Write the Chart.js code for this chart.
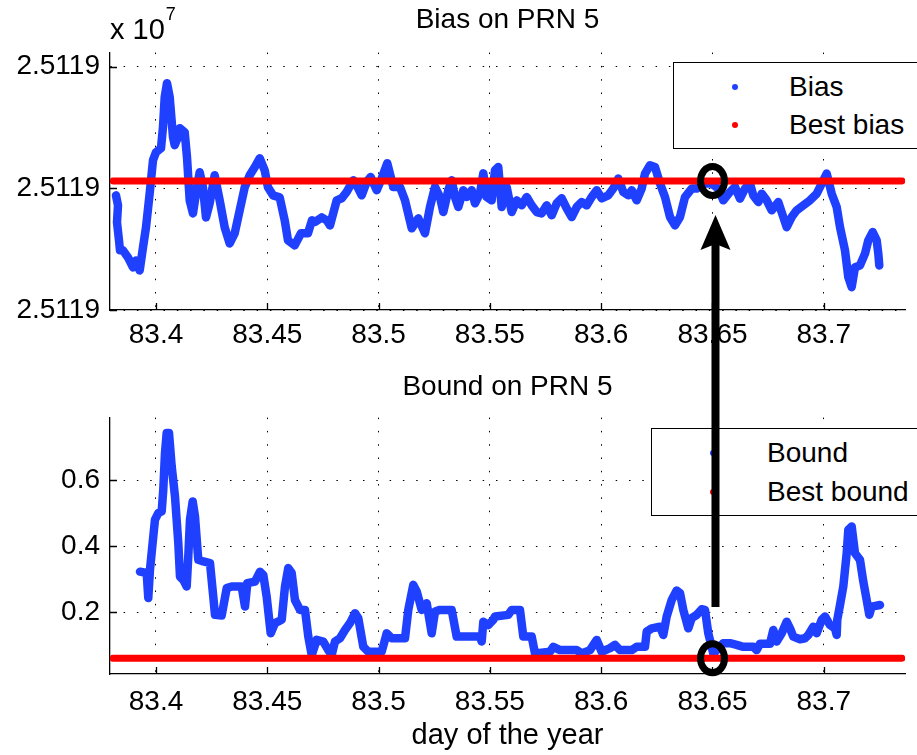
<!DOCTYPE html>
<html lang="en">
<head>
    <meta charset="UTF-8">
    <title>Bias and bound on PRN 5</title>
    <style>
        body { margin: 0; background: #fff; font-family: "Liberation Sans", Arial, sans-serif; }
        #wrap { position: relative; width: 917px; height: 755px; overflow: hidden; }
        canvas { position: absolute; left: 0; }
        #biasChart { top: 0; }
        #boundChart { top: 370px; }
        #overlay { top: 0; z-index: 3; pointer-events: none; }
        .legend { position: absolute; background: #fff; border: 1.5px solid #000; z-index: 2; color: #000; font-size: 28px; }
        .legend .dot { position: absolute; width: 6px; height: 6px; border-radius: 50%; margin: -3px 0 0 -3px; }
        .legend .lbl { position: absolute; line-height: 32px; margin-top: -16px; white-space: nowrap; }
    </style>
</head>
<body>
<div id="wrap">
    <canvas id="biasChart" width="917" height="370"></canvas>
    <canvas id="boundChart" width="917" height="385"></canvas>

    <div class="legend" style="left:673px; top:62px; width:260px; height:85px;">
        <span class="dot" style="left:61px; top:24px; background:rgb(32,64,255);"></span>
        <span class="lbl" style="left:115px; top:24px;">Bias</span>
        <span class="dot" style="left:61px; top:62px; background:#ff0000;"></span>
        <span class="lbl" style="left:115px; top:62px;">Best bias</span>
    </div>
    <div class="legend" style="left:651px; top:428px; width:280px; height:86px;">
        <span class="dot" style="left:61px; top:24px; background:rgb(32,64,255);"></span>
        <span class="lbl" style="left:115px; top:24px;">Bound</span>
        <span class="dot" style="left:61px; top:63px; background:#ff0000;"></span>
        <span class="lbl" style="left:115px; top:63px;">Best bound</span>
    </div>

    <canvas id="overlay" width="917" height="755"></canvas>
</div>

<script src="https://cdn.jsdelivr.net/npm/chart.js"></script>
<script>
    // x axis (day of the year)
    const dayMin = 83.37934;
    const dayMax = 83.73648;
    const dayTicks = [83.4, 83.45, 83.5, 83.55, 83.6, 83.65, 83.7];

    // bias in metres, stored as offset from biasBase
    const biasBase = 25119000;
    const biasTicks = [25118999, 25119000, 25119001];
    const biasDay = [83.38203, 83.38293, 83.38248, 83.38338, 83.38383, 83.38518, 83.38742, 83.38967, 83.39102, 83.39268,
        83.39416, 83.39551, 83.39717, 83.39865, 83.40000, 83.40225, 83.40314, 83.40391, 83.40494, 83.40615,
        83.40764, 83.40840, 83.40988, 83.41065, 83.41289, 83.41393, 83.41514, 83.41662, 83.41797, 83.41963,
        83.42111, 83.42246, 83.42412, 83.42637, 83.42862, 83.43086, 83.43311, 83.43535, 83.43760, 83.43985,
        83.44209, 83.44434, 83.44659, 83.44883, 83.45031, 83.45256, 83.45557, 83.45782, 83.45930, 83.46231,
        83.46514, 83.46828, 83.47008, 83.47143, 83.47444, 83.47668, 83.47817, 83.48118, 83.48342, 83.48567,
        83.48863, 83.49016, 83.49241, 83.49465, 83.49645, 83.49915, 83.50139, 83.50391, 83.50660, 83.50961,
        83.51186, 83.51487, 83.51784, 83.52084, 83.52309, 83.52534, 83.52758, 83.52907, 83.53131, 83.53284,
        83.53432, 83.53580, 83.53805, 83.53958, 83.54182, 83.54330, 83.54555, 83.54704, 83.54856, 83.55081,
        83.55229, 83.55377, 83.55530, 83.55755, 83.55979, 83.56204, 83.56428, 83.56653, 83.56878, 83.57102,
        83.57327, 83.57552, 83.57776, 83.58001, 83.58226, 83.58450, 83.58675, 83.58899, 83.59124, 83.59349,
        83.59573, 83.59798, 83.60022, 83.60319, 83.60543, 83.60768, 83.60993, 83.61217, 83.61370, 83.61595,
        83.61819, 83.61968, 83.62192, 83.62417, 83.62642, 83.62866, 83.63091, 83.63315, 83.63540, 83.63765,
        83.64066, 83.64290, 83.64587, 83.64964, 83.65260, 83.65485, 83.65786, 83.66011, 83.66235, 83.66460,
        83.66685, 83.66833, 83.67058, 83.67210, 83.67435, 83.67659, 83.67956, 83.68180, 83.68333, 83.68558,
        83.68782, 83.69079, 83.69380, 83.69681, 83.69906, 83.70130, 83.70355, 83.70579, 83.70728, 83.70952,
        83.71101, 83.71253, 83.71402, 83.71626, 83.71851, 83.71999, 83.72197, 83.72377, 83.72449, 83.72493];
    const biasOff = [-0.058, -0.140, -0.280, -0.428, -0.510, -0.510, -0.568, -0.650, -0.593, -0.675,
        -0.486, -0.321, -0.041, 0.230, 0.296, 0.329, 0.502, 0.749, 0.864, 0.749,
        0.420, 0.354, 0.420, 0.494, 0.461, 0.255, -0.099, -0.206, -0.041, 0.132,
        0.008, -0.239, -0.123, 0.107, -0.099, -0.321, -0.453, -0.370, -0.181, 0.008,
        0.107, 0.173, 0.247, 0.148, 0.008, -0.058, -0.074, -0.263, -0.428, -0.469,
        -0.370, -0.370, -0.263, -0.277, -0.239, -0.263, -0.305, -0.099, -0.082, -0.030,
        0.066, 0.025, -0.058, 0.052, 0.093, -0.016, 0.082, 0.206, 0.011, 0.011,
        -0.099, -0.329, -0.247, -0.370, -0.154, 0.011, -0.072, -0.195, -0.016, 0.066,
        -0.072, -0.154, -0.016, -0.072, -0.016, -0.123, -0.041, 0.123, -0.072, -0.099,
        0.148, 0.175, -0.154, 0.011, -0.195, -0.099, -0.140, -0.072, -0.140, -0.195,
        -0.206, -0.140, -0.222, -0.123, -0.082, -0.165, -0.236, -0.154, -0.113, -0.140,
        -0.072, -0.016, -0.082, -0.058, -0.002, 0.080, -0.030, -0.058, -0.016, -0.099,
        -0.002, 0.121, 0.189, 0.175, 0.039, -0.072, -0.236, -0.305, -0.236, -0.072,
        -0.002, -0.002, 0.039, 0.039, -0.002, -0.099, -0.030, 0.011, -0.085, -0.002,
        0.039, -0.058, -0.113, -0.044, -0.099, -0.181, -0.113, -0.236, -0.319, -0.236,
        -0.181, -0.140, -0.099, -0.044, 0.039, 0.121, -0.044, -0.154, -0.319, -0.510,
        -0.730, -0.812, -0.648, -0.634, -0.537, -0.428, -0.360, -0.428, -0.537, -0.634];

    // best bias / best bound (constant lines)
    const bestDay = [83.3807, 83.7351];
    const bestBiasOff = [0.06, 0.06];
    const bestBound = [0.06, 0.06];

    // bound
    const boundTicks = [0.2, 0.4, 0.6];
    const boundDay = [83.39281, 83.39582, 83.39654, 83.39730, 83.39879, 83.39955, 83.40103, 83.40256, 83.40328, 83.40404,
        83.40481, 83.40584, 83.40705, 83.40854, 83.41002, 83.41078, 83.41226, 83.41379, 83.41451, 83.41527,
        83.41649, 83.41752, 83.41900, 83.42125, 83.42426, 83.42574, 83.42650, 83.42951, 83.43176, 83.43401,
        83.43850, 83.43998, 83.44102, 83.44447, 83.44672, 83.44820, 83.44973, 83.45153, 83.45346, 83.45647,
        83.45795, 83.45943, 83.46096, 83.46244, 83.46469, 83.46694, 83.46842, 83.46995, 83.47219, 83.47516,
        83.47740, 83.47893, 83.48041, 83.48266, 83.48491, 83.48715, 83.48940, 83.49088, 83.49313, 83.49537,
        83.50139, 83.50364, 83.50588, 83.51186, 83.51334, 83.51559, 83.51712, 83.51936, 83.52161, 83.52385,
        83.52534, 83.52758, 83.53284, 83.53508, 83.54555, 83.54632, 83.54704, 83.54928, 83.55153, 83.55229,
        83.55827, 83.55979, 83.56352, 83.56500, 83.56878, 83.57026, 83.57700, 83.57848, 83.58149, 83.58899,
        83.59124, 83.59497, 83.59798, 83.60022, 83.60395, 83.60620, 83.60844, 83.61370, 83.61595, 83.61968,
        83.62044, 83.62269, 83.62642, 83.62790, 83.62942, 83.63167, 83.63391, 83.63540, 83.63688, 83.63913,
        83.64066, 83.64290, 83.64515, 83.64663, 83.64811, 83.65036, 83.65189, 83.65485, 83.65786, 83.66087,
        83.66383, 83.66833, 83.66985, 83.67134, 83.67583, 83.67731, 83.67884, 83.68109, 83.68333, 83.68482,
        83.68630, 83.68931, 83.69155, 83.69304, 83.69528, 83.69681, 83.69906, 83.70054, 83.70279, 83.70503,
        83.70580, 83.70606, 83.70728, 83.70876, 83.71029, 83.71101, 83.71253, 83.71402, 83.71626, 83.71775,
        83.71927, 83.72044, 83.72152, 83.72525];
    const boundVal = [0.323, 0.319, 0.243, 0.329, 0.430, 0.481, 0.501, 0.506, 0.572, 0.683,
        0.744, 0.744, 0.643, 0.551, 0.410, 0.308, 0.298, 0.278, 0.369, 0.481,
        0.536, 0.491, 0.359, 0.354, 0.349, 0.247, 0.192, 0.190, 0.273, 0.278,
        0.278, 0.217, 0.288, 0.293, 0.323, 0.313, 0.247, 0.136, 0.167, 0.177,
        0.278, 0.334, 0.319, 0.237, 0.207, 0.207, 0.126, 0.070, 0.116, 0.111,
        0.085, 0.070, 0.111, 0.121, 0.146, 0.167, 0.197, 0.182, 0.095, 0.080,
        0.080, 0.136, 0.121, 0.121, 0.207, 0.283, 0.263, 0.207, 0.227, 0.136,
        0.202, 0.207, 0.207, 0.126, 0.126, 0.111, 0.171, 0.161, 0.177, 0.187,
        0.192, 0.207, 0.207, 0.126, 0.126, 0.075, 0.080, 0.095, 0.085, 0.085,
        0.075, 0.085, 0.116, 0.080, 0.091, 0.101, 0.085, 0.085, 0.095, 0.095,
        0.141, 0.151, 0.156, 0.131, 0.187, 0.237, 0.266, 0.258, 0.207, 0.151,
        0.182, 0.192, 0.209, 0.207, 0.136, 0.075, 0.085, 0.106, 0.106, 0.101,
        0.095, 0.095, 0.085, 0.104, 0.104, 0.146, 0.111, 0.136, 0.171, 0.151,
        0.126, 0.118, 0.121, 0.131, 0.156, 0.136, 0.177, 0.187, 0.161, 0.151,
        0.131, 0.177, 0.222, 0.278, 0.379, 0.450, 0.460, 0.379, 0.359, 0.293,
        0.237, 0.192, 0.217, 0.222];

    // the sample that is circled in both plots
    const markDay = 83.65;

    const BLUE = 'rgb(32,64,255)';
    const RED = '#ff0000';
    const FONT = '"Liberation Sans", Arial, Helvetica, sans-serif';

    Chart.defaults.font.family = FONT;
    Chart.defaults.font.size = 28;
    Chart.defaults.color = '#000';

    // matlab style ticks pointing into the axes
    const inwardTicks = {
        id: 'inwardTicks',
        afterDraw(chart) {
            const { ctx, chartArea: a, scales: { x, y } } = chart;
            ctx.save();
            ctx.strokeStyle = '#000';
            ctx.lineWidth = 1.3;
            ctx.beginPath();
            x.ticks.forEach(t => {
                const px = Math.round(x.getPixelForValue(t.value)) + 0.5;
                ctx.moveTo(px, a.bottom);
                ctx.lineTo(px, a.bottom - 7);
            });
            y.ticks.forEach(t => {
                const py = Math.round(y.getPixelForValue(t.value)) + 0.5;
                ctx.moveTo(a.left, py);
                ctx.lineTo(a.left + 7, py);
            });
            ctx.stroke();
            ctx.restore();
        }
    };

    // black ellipse around the marked sample
    const ring = {
        id: 'ring',
        afterDatasetsDraw(chart, args, opts) {
            const { ctx, scales: { x, y } } = chart;
            const cx = x.getPixelForValue(opts.day);
            const cy = y.getPixelForValue(opts.value);
            ctx.save();
            ctx.lineWidth = 7;
            ctx.strokeStyle = '#000';
            ctx.beginPath();
            ctx.ellipse(cx, cy, 12, 14.5, 0, 0, Math.PI * 2);
            ctx.stroke();
            ctx.restore();
        }
    };

    // "x 10^7" exponent label over the bias axis
    const exponent = {
        id: 'exponent',
        afterDraw(chart) {
            const { ctx, chartArea: a } = chart;
            ctx.save();
            ctx.fillStyle = '#000';
            ctx.textBaseline = 'alphabetic';
            ctx.font = '29px ' + FONT;
            ctx.fillText('x 10', a.left, 39);
            const w = ctx.measureText('x 10').width;
            ctx.font = '18px ' + FONT;
            ctx.fillText('7', a.left + w + 1, 20);
            ctx.restore();
        }
    };

    function axisOptions(yTicks, yMin, yMax, yFmt, xPad, xHeight, xTitle) {
        const dotted = { color: '#000', width: 1.3, dash: [1.5, 11.8] };
        return {
            x: {
                type: 'linear',
                min: dayMin,
                max: dayMax,
                afterBuildTicks: s => { s.ticks = dayTicks.map(v => ({ value: v })); },
                afterFit: s => { s.height = xHeight; },
                ticks: { padding: xPad, maxRotation: 0, autoSkip: false, callback: v => String(+v.toFixed(2)) },
                grid: { color: '#000', lineWidth: 1, drawTicks: false },
                border: dotted,
                title: xTitle ? { display: true, text: xTitle, font: { size: 29 }, padding: { top: 0, bottom: 2 } } : { display: false }
            },
            y: {
                type: 'linear',
                min: yMin,
                max: yMax,
                afterBuildTicks: s => { s.ticks = yTicks.map(v => ({ value: v })); },
                afterFit: s => { s.width = 110; },
                ticks: { padding: 10, callback: yFmt },
                grid: { color: '#000', lineWidth: 1, drawTicks: false },
                border: dotted
            }
        };
    }

    const biasChart = new Chart(document.getElementById('biasChart'), {
        type: 'scatter',
        data: {
            datasets: [
                {
                    label: 'Best bias',
                    data: bestDay.map((d, i) => ({ x: d, y: biasBase + bestBiasOff[i] })),
                    showLine: true, borderColor: RED, borderWidth: 7, pointRadius: 0, borderCapStyle: 'round'
                },
                {
                    label: 'Bias',
                    data: biasDay.map((d, i) => ({ x: d, y: biasBase + biasOff[i] })),
                    showLine: true, borderColor: BLUE, borderWidth: 8.5, pointRadius: 0,
                    borderJoinStyle: 'round', borderCapStyle: 'round'
                }
            ]
        },
        options: {
            responsive: false,
            animation: false,
            events: [],
            layout: { padding: { left: 0, right: 12, top: 0, bottom: 0 } },
            plugins: {
                legend: { display: false },
                tooltip: { enabled: false },
                title: { display: true, fullSize: false, text: 'Bias on PRN 5', font: { size: 28, weight: 'normal' }, padding: { top: 3, bottom: 16 } },
                ring: { day: markDay, value: biasBase + bestBiasOff[0] }
            },
            scales: axisOptions(biasTicks, biasBase - 1, biasBase + 1.115, v => (v / 1e7).toFixed(4), 8, 60, null)
        },
        plugins: [inwardTicks, ring, exponent]
    });

    const boundChart = new Chart(document.getElementById('boundChart'), {
        type: 'scatter',
        data: {
            datasets: [
                {
                    label: 'Best bound',
                    data: bestDay.map((d, i) => ({ x: d, y: bestBound[i] })),
                    showLine: true, borderColor: RED, borderWidth: 7, pointRadius: 0, borderCapStyle: 'round'
                },
                {
                    label: 'Bound',
                    data: boundDay.map((d, i) => ({ x: d, y: boundVal[i] })),
                    showLine: true, borderColor: BLUE, borderWidth: 8.5, pointRadius: 0,
                    borderJoinStyle: 'round', borderCapStyle: 'round'
                }
            ]
        },
        options: {
            responsive: false,
            animation: false,
            events: [],
            layout: { padding: { left: 0, right: 12, top: 0, bottom: 0 } },
            plugins: {
                legend: { display: false },
                tooltip: { enabled: false },
                title: { display: true, fullSize: false, text: 'Bound on PRN 5', font: { size: 28, weight: 'normal' }, padding: { top: 0, bottom: 14 } },
                ring: { day: markDay, value: bestBound[0] }
            },
            scales: axisOptions(boundTicks, 0.0125, 0.7906, v => String(+v.toFixed(1)), 11, 81, 'day of the year')
        },
        plugins: [inwardTicks, ring]
    });

    // arrow from the best bound up to the best bias
    const ov = document.getElementById('overlay').getContext('2d');
    const ax = biasChart.scales.x.getPixelForValue(markDay) + 3;
    const tipY = 215, tailY = 607;
    ov.fillStyle = '#000';
    ov.fillRect(ax - 4, tipY + 28, 8, tailY - tipY - 28);
    ov.beginPath();
    ov.moveTo(ax, tipY);
    ov.lineTo(ax + 15, tipY + 35);
    ov.lineTo(ax, tipY + 29);
    ov.lineTo(ax - 15, tipY + 35);
    ov.closePath();
    ov.fill();
</script>
</body>
</html>
